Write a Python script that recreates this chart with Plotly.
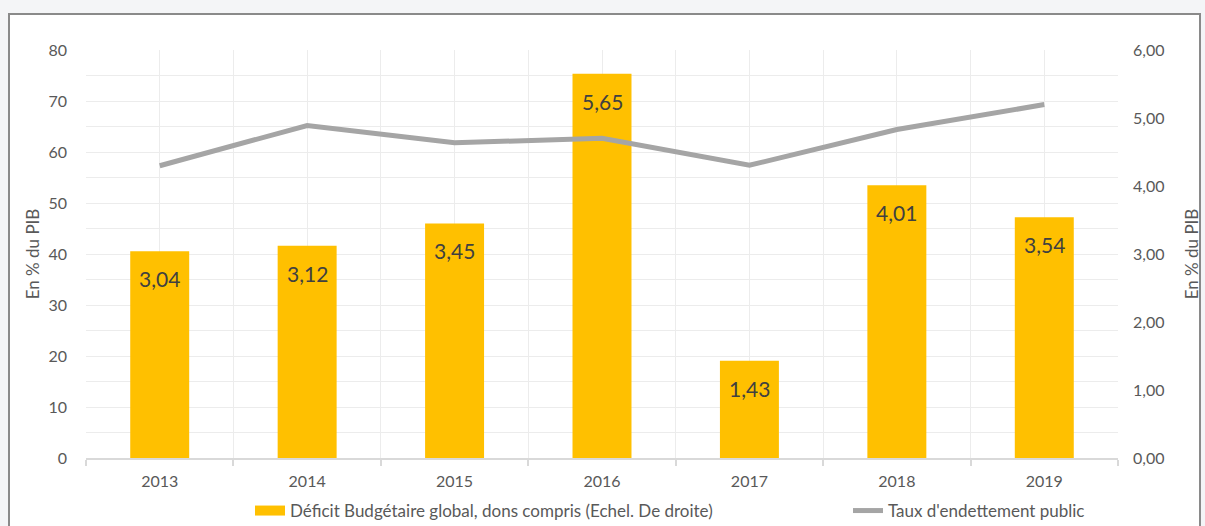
import plotly.graph_objects as go

years = ["2013", "2014", "2015", "2016", "2017", "2018", "2019"]
deficit = [3.04, 3.12, 3.45, 5.65, 1.43, 4.01, 3.54]
dette = [57.3, 65.2, 61.8, 62.7, 57.4, 64.4, 69.3]
bar_name = "Déficit Budgétaire global, dons compris (Echel. De droite)"
line_name = "Taux d'endettement public"

xpos = list(range(len(years)))
FONT = "Lato"
TXT = "#595959"
GRID = "#ececec"
BAR_C = "#FFC000"

fig = go.Figure()
fig.add_trace(go.Bar(
    x=xpos, y=deficit, name=bar_name, yaxis="y", width=0.4, showlegend=False,
    marker=dict(color=BAR_C, line=dict(width=0)),
))
# legend entry for the bars (wide swatch like the original)
fig.add_trace(go.Scatter(
    x=[None], y=[None], name=bar_name, yaxis="y", mode="lines",
    line=dict(color=BAR_C, width=12), legend="legend",
))
fig.add_trace(go.Scatter(
    x=xpos, y=dette, name=line_name, yaxis="y2", mode="lines",
    line=dict(color="#A5A5A5", width=5), legend="legend2",
))

# data labels inside the top of each bar
for xi, v in zip(xpos, deficit):
    fig.add_annotation(x=xi, y=v, xref="x", yref="y", yanchor="top", yshift=-13,
                       text=f"{v:.2f}".replace(".", ","), showarrow=False,
                       font=dict(size=21, color="#404040", family=FONT))

L, R, T, B = 86, 87, 50, 68
W, H = 1205, 526
pw, ph = W - L - R, H - T - B

def px_x(p):
    return (p - L) / pw

def px_y(p):
    return (H - B - p) / ph

fig.add_shape(type="rect", xref="paper", yref="paper",
              x0=px_x(9), x1=px_x(1200), y0=px_y(540), y1=px_y(14),
              line=dict(color="#8a8a8a", width=2), fillcolor="white", layer="below")

leg_common = dict(orientation="h", yanchor="middle", y=px_y(511),
                  font=dict(size=17, color=TXT), bgcolor="rgba(0,0,0,0)",
                  itemwidth=30, xanchor="left")

fig.update_layout(
    width=W, height=H, margin=dict(l=L, r=R, t=T, b=B, autoexpand=False),
    paper_bgcolor="#f4f5f7", plot_bgcolor="rgba(0,0,0,0)",
    font=dict(family=FONT, color=TXT, size=16),
    separators=", ",
    showlegend=True,
    legend=dict(x=px_x(250), **leg_common),
    legend2=dict(x=px_x(848), **leg_common),
    xaxis=dict(range=[-0.5, 6.5], tickvals=xpos, ticktext=years, showgrid=True,
               gridcolor=GRID, gridwidth=1, ticks="", zeroline=False,
               showline=True, linecolor="#d9d9d9", linewidth=1.5,
               tickfont=dict(size=16, color=TXT), automargin=False, ticklabelstandoff=8,
               minor=dict(tickvals=[i - 0.5 for i in range(8)], showgrid=True,
                          gridcolor=GRID, gridwidth=1, ticks="outside",
                          ticklen=6, tickcolor="#d9d9d9", tickwidth=1.5)),
    yaxis=dict(range=[0, 6], side="right", tickvals=[0, 1, 2, 3, 4, 5, 6],
               tickformat=".2f", showgrid=False, zeroline=False, ticks="",
               tickfont=dict(size=16, color=TXT), automargin=False, ticklabelstandoff=14,
               title=dict(text="En % du PIB", font=dict(size=17, color=TXT), standoff=22),
               minor=dict(tickvals=[k * 0.375 for k in range(17)], showgrid=True,
                          gridcolor=GRID, gridwidth=1)),
    yaxis2=dict(range=[0, 80], overlaying="y", side="left", dtick=10, showgrid=False,
                zeroline=False, ticks="", tickfont=dict(size=16, color=TXT), automargin=False,
                ticklabelstandoff=18,
                title=dict(text="En % du PIB", font=dict(size=17, color=TXT), standoff=4)),
)

fig.write_html("out.html", config={"displayModeBar": False},
               post_script="document.body.style.margin='0';document.body.style.overflow='hidden';")
